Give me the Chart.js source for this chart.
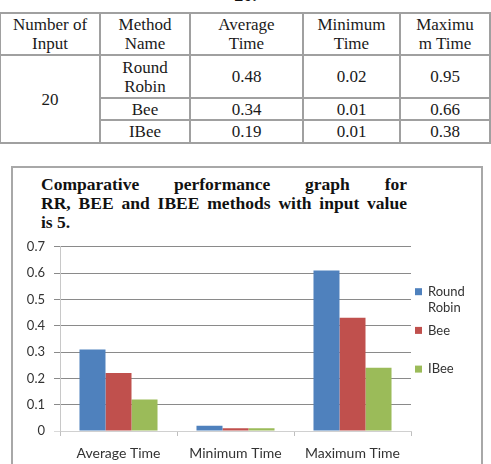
<!DOCTYPE html>
<html>
<head>
<meta charset="utf-8">
<script src="https://cdn.jsdelivr.net/npm/chart.js@4.4.0/dist/chart.umd.min.js"></script>
<style>
  html, body { margin: 0; padding: 0; background: #fff; width: 491px; height: 464px; overflow: hidden; position: relative; }
  #cap { position: absolute; left: 0; width: 491px; top: -14px; text-align: center; font: bold 18px "Liberation Serif", serif; line-height: 18px; color: #111; }
  table { position: absolute; left: -1px; top: 12px; border-collapse: collapse; table-layout: fixed; font: 17px "Liberation Serif", serif; color: #1a1a1a; border: 1.5px solid #000; }
  td { border: 2px solid #a0a0a0; text-align: center; vertical-align: middle; padding: 0; line-height: 19px; }
  #box { position: absolute; left: 11px; top: 166px; width: 468px; height: 320px; border: 2px solid #a8a8a8; box-sizing: content-box; }
  #title { position: absolute; left: 41px; top: 175px; width: 366px; font: bold 17.5px "Liberation Serif", serif; line-height: 18.8px; color: #111; }
  #title div { text-align: justify; text-align-last: justify; white-space: nowrap; }
  #title div.last { text-align: left; text-align-last: left; }
  #wrap { position: absolute; left: 0; top: 230px; width: 491px; height: 234px; }
</style>
</head>
<body>
<div id="cap">20.</div>
<table id="tbl"></table>
<div id="box"></div>
<div id="title">
  <div>Comparative performance graph for</div>
  <div>RR, BEE and IBEE methods with input value</div>
  <div class="last">is 5.</div>
</div>
<div id="wrap"><canvas id="c" width="491" height="234"></canvas></div>
<script>
// ---- Table data ----
const tableHeaders = ["Number of<br>Input", "Method<br>Name", "Average<br>Time", "Minimum<br>Time", "Maximu<br>m Time"];
const tableInput = "20";
const tableMethods = ["Round<br>Robin", "Bee", "IBee"];
const tableAvg = ["0.48", "0.34", "0.19"];
const tableMin = ["0.02", "0.01", "0.01"];
const tableMax = ["0.95", "0.66", "0.38"];

// ---- Chart data ----
const categories = ["Average Time", "Minimum Time", "Maximum Time"];
const seriesNames = ["Round Robin", "Bee", "IBee"];
const roundRobin = [0.31, 0.02, 0.61];
const bee = [0.22, 0.01, 0.43];
const iBee = [0.12, 0.01, 0.24];
const yTicks = [0, 0.1, 0.2, 0.3, 0.4, 0.5, 0.6, 0.7];

// build table
(function () {
  const colW = [100, 90, 113, 97, 90];
  const rowH = [42, 43, 22, 23];
  const t = document.getElementById('tbl');
  const cg = document.createElement('colgroup');
  colW.forEach(w => { const c = document.createElement('col'); c.style.width = w + 'px'; cg.appendChild(c); });
  t.appendChild(cg);
  let tr = document.createElement('tr'); tr.style.height = rowH[0] + 'px';
  tableHeaders.forEach(h => { const td = document.createElement('td'); td.innerHTML = h; tr.appendChild(td); });
  t.appendChild(tr);
  for (let i = 0; i < tableMethods.length; i++) {
    tr = document.createElement('tr'); tr.style.height = rowH[i + 1] + 'px';
    if (i === 0) {
      const td = document.createElement('td'); td.rowSpan = tableMethods.length; td.textContent = tableInput; tr.appendChild(td);
    }
    [tableMethods[i], tableAvg[i], tableMin[i], tableMax[i]].forEach(v => {
      const td = document.createElement('td'); td.innerHTML = v; tr.appendChild(td);
    });
    t.appendChild(tr);
  }
  t.style.width = colW.reduce((a, b) => a + b, 0) + 'px';
})();

const colors = ['#4F81BD', '#C0504D', '#9BBB59'];
const seriesData = [roundRobin, bee, iBee];

const legendPlugin = {
  id: 'sideLegend',
  afterDraw(chart) {
    const ctx = chart.ctx;
    const x0 = 415, tx = 428, maxW = 52;
    const yStart = 291.7 - 230, step = 38.7, lineH = 16.5;
    ctx.save();
    ctx.font = '13px Lato, "Open Sans", sans-serif';
    ctx.textBaseline = 'middle';
    chart.data.datasets.forEach((ds, i) => {
      const cy = yStart + i * step;
      ctx.fillStyle = ds.backgroundColor;
      ctx.fillRect(x0, cy - 3.5, 7, 7);
      ctx.fillStyle = '#333';
      const words = ds.label.split(' ');
      const lines = [];
      let cur = '';
      words.forEach(w => {
        const test = cur ? cur + ' ' + w : w;
        if (ctx.measureText(test).width > maxW && cur) { lines.push(cur); cur = w; } else cur = test;
      });
      if (cur) lines.push(cur);
      lines.forEach((l, j) => ctx.fillText(l, tx, cy + j * lineH));
    });
    ctx.restore();
  }
};

new Chart(document.getElementById('c'), {
  type: 'bar',
  data: {
    labels: categories,
    datasets: seriesNames.map((n, i) => ({
      label: n,
      data: seriesData[i],
      backgroundColor: colors[i],
      borderWidth: 0,
      categoryPercentage: 0.667,
      barPercentage: 1.0
    }))
  },
  options: {
    responsive: false,
    animation: false,
    devicePixelRatio: 1,
    layout: { padding: { left: 0, right: 80, top: 9.5, bottom: 0 } },
    plugins: { legend: { display: false }, title: { display: false }, tooltip: { enabled: false } },
    scales: {
      x: {
        offset: true,
        grid: { display: true, drawOnChartArea: false, drawTicks: true, tickLength: 5, color: '#bfbfbf', offset: true },
        border: { display: true, color: '#d0d0d0' },
        ticks: { color: '#333', font: { family: 'Lato, "Open Sans", sans-serif', size: 14 }, padding: 9 },
        afterFit(s) { s.height = 33; }
      },
      y: {
        min: 0, max: 0.7,
        afterBuildTicks(s) { s.ticks = yTicks.map(v => ({ value: v })); },
        grid: {
          color: c => c.tick && c.tick.value === 0 ? '#d9d9d9' : '#8a8a8a',
          tickLength: 6, lineWidth: 1
        },
        border: { display: true, color: '#c8c8c8' },
        ticks: {
          color: '#333', font: { family: 'Lato, "Open Sans", sans-serif', size: 13 }, padding: 9,
          callback: v => String(Math.round(v * 10) / 10)
        },
        afterFit(s) { s.width = 60; }
      }
    }
  },
  plugins: [legendPlugin]
});
</script>
</body>
</html>
